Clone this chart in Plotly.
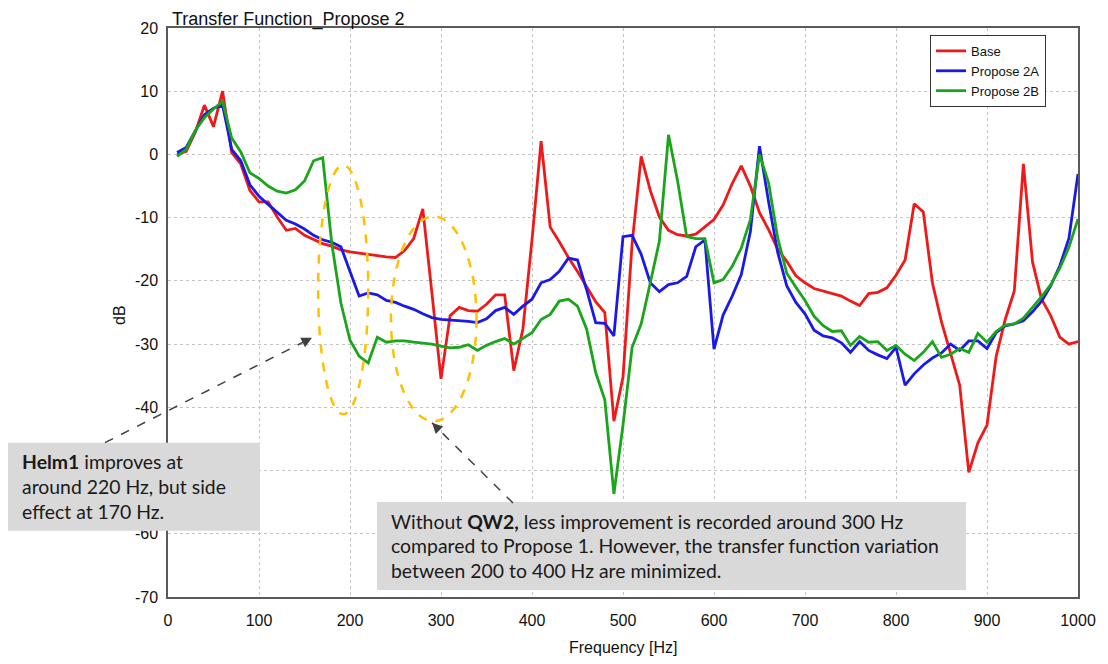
import plotly.graph_objects as go

# ---------------- data ----------------
freq_hz = [10, 20, 30, 40, 50, 60, 70, 80, 90, 100,
           110, 120, 130, 140, 150, 160, 170, 180, 190, 200,
           210, 220, 230, 240, 250, 260, 270, 280, 290, 300,
           310, 320, 330, 340, 350, 360, 370, 380, 390, 400,
           410, 420, 430, 440, 450, 460, 470, 480, 490, 500,
           510, 520, 530, 540, 550, 560, 570, 580, 590, 600,
           610, 620, 630, 640, 650, 660, 670, 680, 690, 700,
           710, 720, 730, 740, 750, 760, 770, 780, 790, 800,
           810, 820, 830, 840, 850, 860, 870, 880, 890, 900,
           910, 920, 930, 940, 950, 960, 970, 980, 990, 1000]

base_db = [0.0, 0.5, 3.5, 7.8, 4.4, 10.0, 0.3, -1.5, -5.7, -7.5,
           -7.5, -9.9, -12.0, -11.7, -12.8, -13.5, -14.1, -14.5, -15.1, -15.4,
           -15.6, -15.9, -16.0, -16.2, -16.3, -15.2, -13.3, -8.6, -21.9, -35.5,
           -25.5, -24.2, -24.7, -24.8, -23.7, -22.2, -22.2, -34.2, -27.6, -13.5,
           2.1, -11.5, -13.8, -16.3, -18.5, -21.0, -23.3, -25.0, -42.2, -35.2,
           -14.1, -0.3, -5.7, -9.9, -12.0, -12.7, -12.9, -12.6, -11.5, -10.3,
           -8.0, -4.6, -1.8, -5.0, -9.2, -11.9, -15.0, -16.9, -19.2, -20.3,
           -21.2, -21.6, -21.9, -22.4, -23.2, -23.9, -22.0, -21.8, -21.1, -19.1,
           -16.7, -7.8, -9.1, -20.3, -26.5, -31.5, -36.5, -50.3, -45.6, -42.8,
           -32.0, -26.1, -21.6, -1.5, -17.0, -22.9, -25.5, -28.9, -30.0, -29.6]

propose_2a_db = [0.3, 1.1, 3.7, 6.3, 7.3, 7.8, 0.8, -1.0, -4.8, -6.6,
                 -7.9, -9.2, -10.4, -11.0, -11.8, -12.8, -13.5, -13.9, -14.6, -18.5,
                 -22.4, -21.9, -22.2, -23.1, -23.4, -24.0, -24.5, -25.2, -25.8, -26.1,
                 -26.2, -26.2, -26.4, -26.6, -26.0, -24.7, -24.2, -25.3, -24.0, -22.9,
                 -20.3, -19.8, -18.5, -16.4, -16.7, -21.4, -26.6, -26.7, -28.7, -13.0,
                 -12.8, -15.8, -20.3, -21.7, -20.6, -20.3, -19.3, -14.6, -13.5, -30.8,
                 -25.4, -22.4, -19.0, -12.2, 1.3, -7.5, -15.5, -20.8, -23.4, -25.2,
                 -27.8, -28.7, -29.0, -29.8, -31.3, -29.6, -31.0, -31.7, -32.3, -30.5,
                 -36.5, -34.7, -33.3, -32.2, -31.4, -30.0, -31.0, -29.5, -29.5, -30.7,
                 -28.2, -27.1, -26.8, -26.3, -24.9, -23.2, -20.8, -17.6, -13.3, -3.1]

propose_2b_db = [-0.3, 0.8, 3.8, 5.8, 7.2, 8.4, 2.6, 0.4, -2.9, -3.8,
                 -5.0, -5.8, -6.1, -5.6, -4.2, -1.0, -0.5, -14.1, -23.5, -29.4,
                 -31.9, -33.0, -28.9, -29.7, -29.5, -29.5, -29.7, -29.8, -30.0, -30.3,
                 -30.6, -30.5, -30.1, -31.0, -30.2, -29.6, -29.1, -30.0, -29.1, -28.2,
                 -26.1, -25.3, -23.2, -22.9, -24.0, -27.6, -34.5, -38.8, -53.7, -42.8,
                 -30.5, -26.8, -20.3, -13.7, 3.1, -4.2, -13.0, -13.3, -13.3, -20.3,
                 -19.8, -17.7, -14.8, -10.3, 0.0, -4.5, -13.2, -18.8, -21.0, -23.1,
                 -25.6, -27.1, -28.0, -27.9, -30.2, -28.8, -29.7, -29.6, -31.0, -30.2,
                 -31.6, -32.6, -31.3, -29.6, -32.1, -31.6, -30.7, -31.3, -28.3, -29.7,
                 -28.0, -27.0, -26.8, -25.9, -24.2, -22.5, -20.6, -18.0, -14.7, -10.2]

series_names = ["Base", "Propose 2A", "Propose 2B"]
x_tick_vals = [0, 100, 200, 300, 400, 500, 600, 700, 800, 900, 1000]
y_tick_vals = [20, 10, 0, -10, -20, -30, -40, -50, -60, -70]
# the -50 label sits behind the "Helm1" note box in the original
y_tick_text = ["20", "10", "0", "-10", "-20", "-30", "-40", "", "-60", "-70"]

# highlighted regions (frequency span, dB span)
ellipse_hz = [(165, 220), (245, 339)]
ellipse_db = [(-41.1, -1.7), (-42.2, -9.8)]

# ---------------- layout constants ----------------
PAGE = 8                      # default body margin of the html page
W, H = 1108 - PAGE, 664 - PAGE
ML, MR, MT, MB = 168 - PAGE, 30, 22 - PAGE, 67
PW, PH = W - ML - MR, H - MT - MB
LEFT, BOTTOM = PAGE + ML, PAGE + MT + PH   # page pixel position of plot edges


def px(x):
    """page pixel x -> paper x"""
    return (x - LEFT) / PW


def py(y):
    """page pixel y -> paper y"""
    return (BOTTOM - y) / PH


colors = ["#ee1a1a", "#1a1ae6", "#1aa51a"]
tick_font = dict(family="Liberation Sans, Arial", size=16, color="#111111")
note_font = dict(family="Lato, Noto Sans", size=19.4, color="#1a1a1a")

fig = go.Figure()
for name, ys, c in zip(series_names, [base_db, propose_2a_db, propose_2b_db], colors):
    fig.add_trace(go.Scatter(x=freq_hz, y=ys, mode="lines", name=name,
                             line=dict(color=c, width=2.8)))

axis_common = dict(showgrid=True, gridcolor="#c4c4c4", griddash="dot", gridwidth=1,
                   showline=True, mirror=True, linecolor="#5a5a5a", linewidth=1.5,
                   ticks="outside", tickcolor="rgba(0,0,0,0)", zeroline=False,
                   tickfont=tick_font)

fig.update_layout(
    width=W, height=H,
    margin=dict(l=ML, r=MR, t=MT, b=MB),
    paper_bgcolor="white", plot_bgcolor="white",
    xaxis=dict(range=[0, 1000], tickvals=x_tick_vals, ticklen=8, **axis_common),
    yaxis=dict(range=[-70, 20], tickvals=y_tick_vals, ticktext=y_tick_text,
               ticklen=5, **axis_common),
    legend=dict(x=px(930), y=py(29), xanchor="left", yanchor="top",
                bgcolor="white", bordercolor="#333333", borderwidth=1,
                font=dict(family="Liberation Sans, Arial", size=13, color="#111111"),
                itemwidth=30, tracegroupgap=0),
)

shapes = []
for (x0, x1), (y0, y1) in zip(ellipse_hz, ellipse_db):
    shapes.append(dict(type="circle", xref="x", yref="y", x0=x0, x1=x1, y0=y0, y1=y1,
                       line=dict(color="#FFC000", width=2.5, dash="dash"), layer="above"))

# gray note boxes
shapes.append(dict(type="rect", xref="paper", yref="paper",
                   x0=px(8), x1=px(260), y0=py(530), y1=py(441),
                   fillcolor="#d9d9d9", line=dict(width=0), layer="above"))
shapes.append(dict(type="rect", xref="paper", yref="paper",
                   x0=px(377), x1=px(966), y0=py(590), y1=py(501),
                   fillcolor="#d9d9d9", line=dict(width=0), layer="above"))

# dashed arrow shafts
arrows = [((105, 441), (312, 335)), ((513, 502), (432, 421))]
for (tx, ty), (hx, hy) in arrows:
    shapes.append(dict(type="line", xref="paper", yref="paper",
                       x0=px(tx), y0=py(ty), x1=px(hx), y1=py(hy),
                       line=dict(color="#404040", width=1.5, dash="dash"), layer="above"))
fig.update_layout(shapes=shapes)

annotations = []
# arrow heads
for (tx, ty), (hx, hy) in arrows:
    dx, dy = tx - hx, ty - hy
    n = (dx * dx + dy * dy) ** 0.5
    annotations.append(dict(xref="paper", yref="paper", x=px(hx), y=py(hy), text="",
                            showarrow=True, arrowhead=2, arrowsize=1.4, arrowwidth=1.5,
                            arrowcolor="#404040", ax=dx / n * 10, ay=dy / n * 10,
                            standoff=0))

# title
annotations.append(dict(xref="paper", yref="paper", x=px(170), y=1, xanchor="left",
                        yanchor="bottom", yshift=-4, showarrow=False,
                        text="Transfer Function_Propose 2",
                        font=dict(family="Liberation Sans, Arial", size=18, color="#111111")))
# axis titles
annotations.append(dict(xref="paper", yref="paper", x=0.5, y=py(648), xanchor="center",
                        yanchor="middle", showarrow=False, text="Frequency [Hz]",
                        font=tick_font))
annotations.append(dict(xref="paper", yref="paper", x=px(120), y=py(312), xanchor="center",
                        yanchor="middle", showarrow=False, text="dB", textangle=-90,
                        font=tick_font))

note1 = ["<b>Helm1</b> improves at", "around 220 Hz, but side", "effect at 170 Hz."]
note1_y = [460, 485.7, 510.7]
for t, yy in zip(note1, note1_y):
    annotations.append(dict(xref="paper", yref="paper", x=px(20), y=py(yy), xanchor="left",
                            yanchor="middle", showarrow=False, text=t, font=note_font))

note2 = ["Without <b>QW2,</b> less improvement is recorded around 300 Hz",
         "compared to Propose 1. However, the transfer function variation",
         "between 200 to 400 Hz are minimized."]
note2_y = [520.7, 545, 570]
for t, yy in zip(note2, note2_y):
    annotations.append(dict(xref="paper", yref="paper", x=px(389), y=py(yy), xanchor="left",
                            yanchor="middle", showarrow=False, text=t, font=note_font))

fig.update_layout(annotations=annotations)

fig.write_html("out.html")
